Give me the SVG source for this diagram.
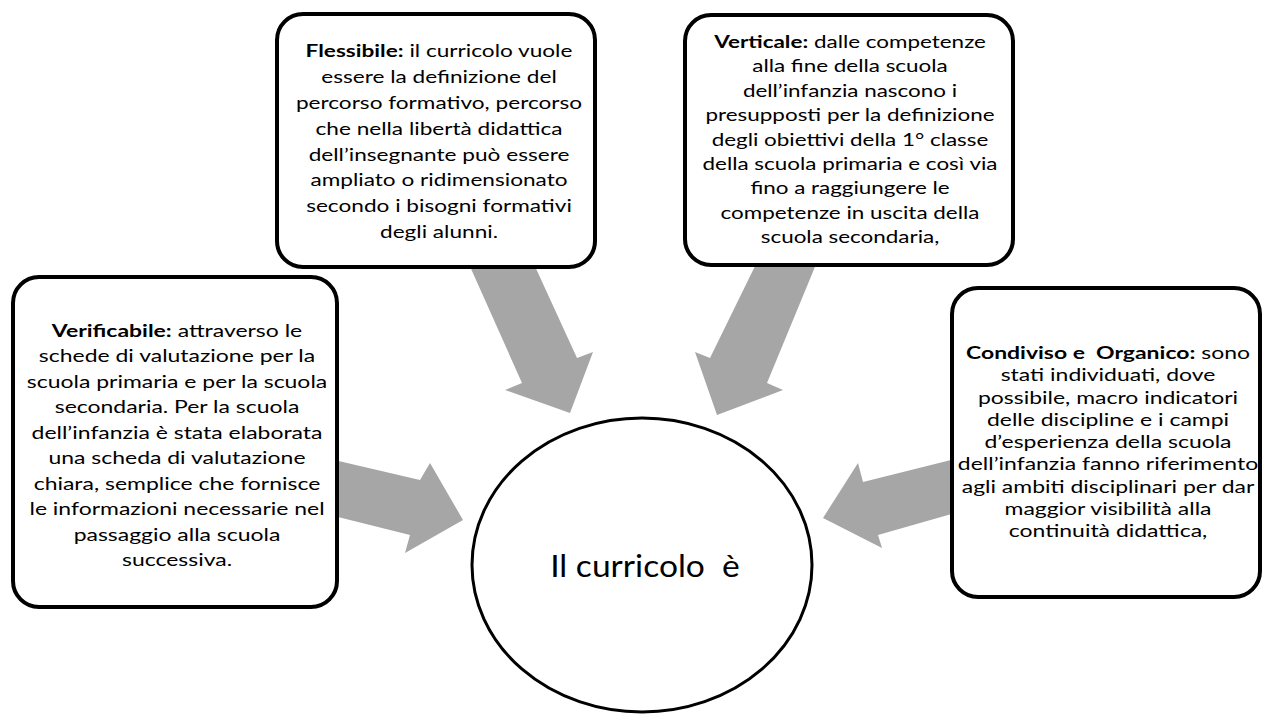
<svg xmlns="http://www.w3.org/2000/svg" width="1264" height="715" viewBox="0 0 1264 715">
<style>
.box{fill:#fff;stroke:#000;stroke-width:4}
.arrow{fill:#a6a6a6;stroke:none}
.t{font-family:Lato,"Liberation Sans",sans-serif;font-size:17px;fill:#000;text-anchor:middle}
.b{font-weight:bold}
.main{font-family:Lato,"Liberation Sans",sans-serif;font-size:30px;fill:#000;text-anchor:middle}
</style>
<rect width="1264" height="715" fill="#fff"/>
<g id="connectors">
<polygon class="arrow" points="468,262 533,262 577,358 593,352 570,413 505,390 522,383"/>
<polygon class="arrow" points="757,262 817,262 767,383 783,390 717,415 695,352 710,358"/>
<polygon class="arrow" points="330,459 420,480 430,463 463,520 405,553 410,535 330,515"/>
<polygon class="arrow" points="955,459 863,482 858,463 823,518 882,548 878,535 955,513"/>
</g>
<g id="node-flessibile">
<rect class="box" x="277" y="14" width="318" height="253" rx="26"/>
<g transform="translate(439,0) scale(1.33,1)">
<text class="t" x="0" y="57"><tspan class="b">Flessibile:</tspan> il curricolo vuole</text>
<text class="t" x="0" y="82.9">essere la definizione del</text>
<text class="t" x="0" y="108.8">percorso formativo, percorso</text>
<text class="t" x="0" y="134.7">che nella libertà didattica</text>
<text class="t" x="0" y="160.6">dell’insegnante può essere</text>
<text class="t" x="0" y="186.5">ampliato o ridimensionato</text>
<text class="t" x="0" y="212.4">secondo i bisogni formativi</text>
<text class="t" x="0" y="238.3">degli alunni.</text>
</g>
</g>
<g id="node-verticale">
<rect class="box" x="685" y="15" width="328" height="250" rx="26"/>
<g transform="translate(850,0) scale(1.32,1)">
<text class="t" x="0" y="48"><tspan class="b">Verticale:</tspan> dalle competenze</text>
<text class="t" x="0" y="72.4">alla fine della scuola</text>
<text class="t" x="0" y="96.8">dell’infanzia nascono i</text>
<text class="t" x="0" y="121.2">presupposti per la definizione</text>
<text class="t" x="0" y="145.6">degli obiettivi della 1° classe</text>
<text class="t" x="0" y="170">della scuola primaria e così via</text>
<text class="t" x="0" y="194.4">fino a raggiungere le</text>
<text class="t" x="0" y="218.8">competenze in uscita della</text>
<text class="t" x="0" y="243.2">scuola secondaria,</text>
</g>
</g>
<g id="node-verificabile">
<rect class="box" x="13" y="277" width="324" height="330" rx="26"/>
<g transform="translate(177,0) scale(1.35,1)">
<text class="t" x="0" y="337"><tspan class="b">Verificabile:</tspan> attraverso le</text>
<text class="t" x="0" y="362.5">schede di valutazione per la</text>
<text class="t" x="0" y="388">scuola primaria e per la scuola</text>
<text class="t" x="0" y="413.5">secondaria. Per la scuola</text>
<text class="t" x="0" y="439">dell’infanzia è stata elaborata</text>
<text class="t" x="0" y="464.5">una scheda di valutazione</text>
<text class="t" x="0" y="490">chiara, semplice che fornisce</text>
<text class="t" x="0" y="515.5">le informazioni necessarie nel</text>
<text class="t" x="0" y="541">passaggio alla scuola</text>
<text class="t" x="0" y="566.5">successiva.</text>
</g>
</g>
<g id="node-condiviso">
<rect class="box" x="952" y="288" width="308" height="309" rx="26"/>
<g transform="translate(1108,0) scale(1.35,1)">
<text class="t" x="0" y="359" xml:space="preserve"><tspan class="b">Condiviso e  Organico:</tspan> sono</text>
<text class="t" x="0" y="381.3">stati individuati, dove</text>
<text class="t" x="0" y="403.6">possibile, macro indicatori</text>
<text class="t" x="0" y="425.9">delle discipline e i campi</text>
<text class="t" x="0" y="448.2">d’esperienza della scuola</text>
<text class="t" x="0" y="470.5">dell’infanzia fanno riferimento</text>
<text class="t" x="0" y="492.8">agli ambiti disciplinari per dar</text>
<text class="t" x="0" y="515.1">maggior visibilità alla</text>
<text class="t" x="0" y="537.4">continuità didattica,</text>
</g>
</g>
<g id="node-center">
<ellipse cx="642" cy="565" rx="170" ry="147" fill="#fff" stroke="#000" stroke-width="3"/>
<g transform="translate(645,0) scale(1.12,1)">
<text class="main" x="0" y="577" xml:space="preserve">Il curricolo  è</text>
</g>
</g>
</svg>
